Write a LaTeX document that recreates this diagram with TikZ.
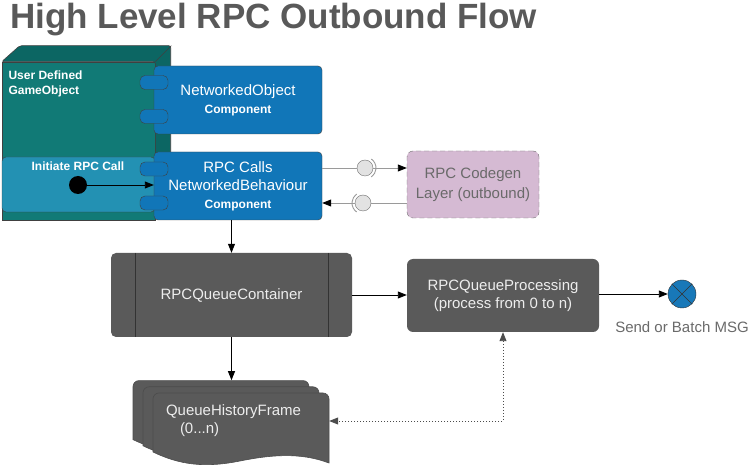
\documentclass[tikz,border=0pt]{standalone}
\usepackage{fontspec}
\setmainfont{Liberation Sans}
\usetikzlibrary{arrows.meta}

\definecolor{titlegray}{HTML}{595959}
\definecolor{tealfront}{HTML}{117A76}
\definecolor{tealside}{HTML}{0C6663}
\definecolor{initblue}{HTML}{2391B3}
\definecolor{compblue}{HTML}{1176B8}
\definecolor{codegenfill}{HTML}{D5BAD3}
\definecolor{labelgray}{HTML}{6A6A6A}
\definecolor{boxgray}{HTML}{5A5A5A}
\definecolor{sendblue}{HTML}{1878B8}
\definecolor{ifacefill}{HTML}{E2E2E2}
\definecolor{wiregray}{HTML}{9A9A9A}

\newcommand{\txtmain}{\fontsize{15}{18}\selectfont}
\newcommand{\txtbold}{\fontsize{12}{15}\selectfont\bfseries}

\tikzset{
  flow/.style={-{Triangle[length=9pt,width=7pt]}, line width=0.9pt},
  ifwire/.style={draw=wiregray, line width=0.9pt},
  comp/.style={draw=black!75, fill=compblue, rounded corners=4pt, minimum width=168pt,
    minimum height=68pt, align=center, text=white, font=\txtmain},
  tab/.style={draw=black!75, fill=compblue, rounded corners=5pt, minimum width=28pt,
    minimum height=14pt, inner sep=0pt},
  iface/.style={circle, draw=black!55, fill=ifacefill, minimum size=16pt, inner sep=0pt},
  darkbox/.style={fill=boxgray, rounded corners=6pt, align=center, text=white!93!black, font=\txtmain},
  sheet/.style={fill=boxgray, draw=black!70, line width=0.6pt},
}

\begin{document}
\begin{tikzpicture}[x=1pt,y=-1pt]
\useasboundingbox[fill=white] (0,0) rectangle (753,470);

% title
\node[anchor=base west, inner sep=0pt, text=titlegray, font=\fontsize{35}{40}\selectfont\bfseries] (title) at (10,29) {High Level RPC Outbound Flow};

% game object
\node[draw=black!75, fill=tealfront, minimum width=153pt, minimum height=158pt, inner sep=0pt, line width=0.6pt] (gameobj) at (78.5,141) {};
\filldraw[fill=tealside, draw=black!75, line width=0.6pt, rounded corners=2pt] (gameobj.north west) -- ++(18,-16) -- ++(151,0) -- ++(0,158) -- (gameobj.south east) -- (gameobj.north east) -- cycle;
\draw[black!75, line width=0.6pt] (gameobj.north east) -- ++(16,-16);
\node[anchor=north west, align=left, text=white, font=\txtbold] (golabel) at (5,67) {User Defined\\GameObject};

\node[draw=black!75, fill=initblue, rounded corners=4pt, minimum width=153pt, minimum height=55pt] (initbox) at (78.5,184.5) {};
\node[text=white, font=\txtbold] (initlbl) at (78,166) {Initiate RPC Call};
\node[circle, fill=black, minimum size=18pt, inner sep=0pt] (calldot) at (78,185) {};

% components
\node[comp] (netobj) at (238,100) {NetworkedObject\\{\txtbold Component}};
\node[comp] (rpc) at (238,186) {RPC Calls\\NetworkedBehaviour\\{\txtbold Component}};
\foreach \y [count=\i] in {82.5,116.5,169,203}
  \node[tab] (tab\i) at (154,\y) {};

\draw[flow] (calldot) -- (calldot -| rpc.west);

% codegen layer
\node[draw=black!55, dash pattern=on 5pt off 3pt, fill=codegenfill, rounded corners=6pt, minimum width=132pt, minimum height=67pt, align=center, text=labelgray, font=\fontsize{15}{19.5}\selectfont] (codegen) at (473,184.5) {RPC Codegen\\Layer (outbound)};
\node[iface] (ifout) at (365,168) {};
\node[iface] (ifin) at (363,203) {};
\draw[ifwire] ([shift={(-55:11)}]ifout.center) arc[start angle=-55, end angle=55, radius=11];
\draw[ifwire] ([shift={(125:11)}]ifin.center) arc[start angle=125, end angle=235, radius=11];
\draw[ifwire] (rpc.east |- ifout) -- (ifout.west);
\draw[ifwire, -{Triangle[length=9pt,width=7pt,color=black]}] (ifout.east) -- (codegen.west |- ifout);
\draw[ifwire] (codegen.west |- ifin) -- (ifin.east);
\draw[ifwire, -{Triangle[length=9pt,width=7pt,color=black]}] (ifin.west) -- (rpc.east |- ifin);

% queue container
\node[darkbox, minimum width=241pt, minimum height=84pt, rounded corners=5pt] (queue) at (231.5,295) {RPCQueueContainer};
\draw[black!80, line width=0.6pt] ([xshift=24pt]queue.north west) -- ([xshift=24pt]queue.south west);
\draw[black!80, line width=0.6pt] ([xshift=-24pt]queue.north east) -- ([xshift=-24pt]queue.south east);
\draw[flow] (queue.north |- rpc.south) -- (queue.north);

% processing
\node[darkbox, minimum width=192pt, minimum height=73pt] (proc) at (503,295.5) {RPCQueueProcessing\\(process from 0 to n)};
\draw[flow] (queue.east) -- (queue.east -| proc.west);

\node[circle, draw=black!80, fill=sendblue, minimum size=28pt, inner sep=0pt] (send) at (682,294) {};
\draw[black!80] (send.north east) -- (send.south west) (send.north west) -- (send.south east);
\node[text=labelgray, font=\txtmain] (sendlbl) at (682,327) {Send or Batch MSG};
\draw[flow] (proc.east |- send) -- (send.west);

% history frames
\foreach \d in {20,10,0} {
  \begin{scope}[shift={(-\d,-0.62*\d)}]
    \filldraw[sheet] (153,452) [rounded corners=6pt] -- (153,393) -- (329,393) [sharp corners] -- (329,463)
      .. controls (300,452) and (270,455) .. (240,461) .. controls (205,468) and (180,465) .. (153,452) -- cycle;
  \end{scope}
}
\node[text=white!93!black, font=\txtmain, align=left, text width=150pt, inner xsep=13pt] (qhf) at (241,421) {QueueHistoryFrame\\\hspace*{14pt}(0...n)};
\draw[flow] (queue.south) -- ++(0,43);

\draw[{Triangle[length=9pt,width=7pt]}-{Triangle[length=9pt,width=7pt]}, black!70, line width=0.9pt, dash pattern=on 1pt off 2pt] (proc.south) |- (qhf.east);
\end{tikzpicture}
\end{document}
